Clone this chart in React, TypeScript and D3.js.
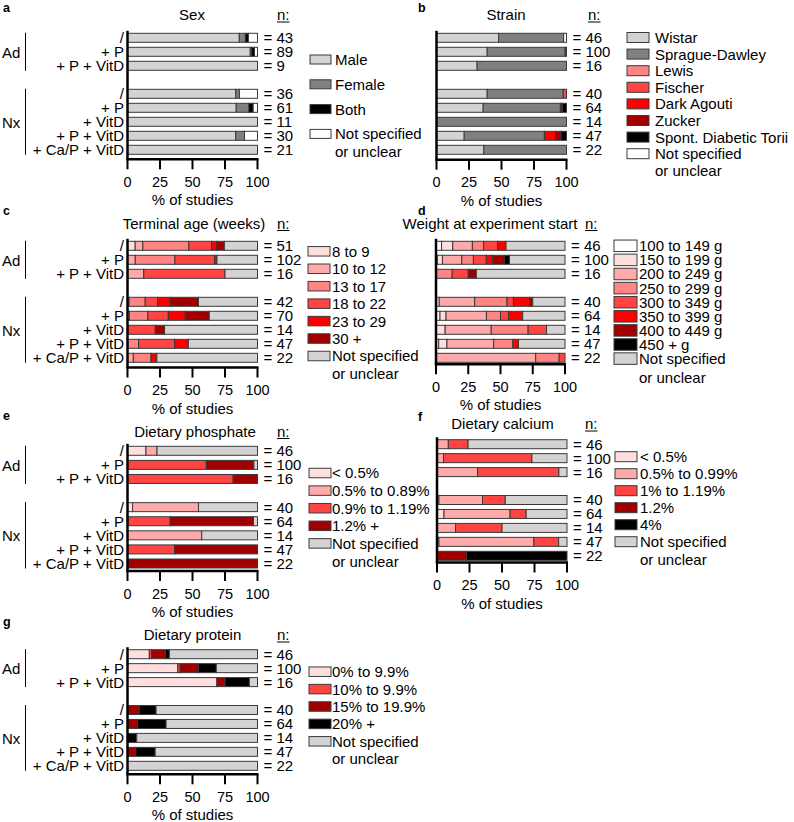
import React from "react";
import * as d3 from "d3";

const rowLabels = ["/", "+ P", "+ P + VitD", "/", "+ P", "+ VitD", "+ P + VitD", "+ Ca/P + VitD"];
const groupNames = ["Ad", "Nx"];
const groupRows = [[0, 1, 2], [3, 4, 5, 6, 7]];
const xTicks = [0, 25, 50, 75, 100];
const NS = "Not specified or unclear";

// a: Sex
const sexKeys = ["Male", "Female", "Both", NS];
const sexColors = ["#d3d3d3", "#808080", "#000000", "#ffffff"];
const sexN = [43, 89, 9, 36, 61, 11, 30, 21];
const sexData = [
  [86.0, 4.7, 2.3, 7.0],
  [94.4, 1.1, 2.2, 2.3],
  [100, 0, 0, 0],
  [83.3, 2.8, 0, 13.9],
  [83.6, 9.8, 3.3, 3.3],
  [100, 0, 0, 0],
  [83.3, 6.7, 0, 10.0],
  [100, 0, 0, 0],
];

// b: Strain
const strainKeys = ["Wistar", "Sprague-Dawley", "Lewis", "Fischer", "Dark Agouti", "Zucker", "Spont. Diabetic Torii", NS];
const strainColors = ["#d3d3d3", "#808080", "#ff8585", "#ff4444", "#ff0000", "#a00000", "#000000", "#ffffff"];
const strainN = [46, 100, 16, 40, 64, 14, 47, 22];
const strainData = [
  [47.8, 50.0, 0, 0, 0, 0, 0, 2.2],
  [39.0, 60.0, 0, 0, 0, 1.0, 0, 0],
  [31.25, 68.75, 0, 0, 0, 0, 0, 0],
  [39.0, 58.5, 0, 2.5, 0, 0, 0, 0],
  [35.9, 59.4, 0, 0, 0, 1.6, 3.1, 0],
  [0, 100, 0, 0, 0, 0, 0, 0],
  [21.3, 61.7, 0, 0, 8.5, 4.3, 4.2, 0],
  [36.4, 63.6, 0, 0, 0, 0, 0, 0],
];

// c: Terminal age
const ageKeys = ["8 to 9", "10 to 12", "13 to 17", "18 to 22", "23 to 29", "30 +", NS];
const ageColors = ["#ffdede", "#ffaaaa", "#ff8585", "#ff4444", "#ff0000", "#a00000", "#d3d3d3"];
const ageN = [51, 102, 16, 42, 70, 14, 47, 22];
const ageData = [
  [5.9, 5.9, 35.3, 17.6, 3.9, 5.9, 25.5],
  [0, 6.0, 30.5, 30.5, 1.8, 0, 31.2],
  [0, 12.5, 0, 62.5, 0, 0, 25.0],
  [1.2, 0, 12.4, 9.7, 9.5, 21.8, 45.4],
  [1.4, 0, 14.3, 15.7, 12.9, 18.6, 37.1],
  [0, 0, 0, 21.4, 0, 7.1, 71.5],
  [0, 0, 8.5, 27.7, 10.6, 0, 53.2],
  [0, 4.5, 13.6, 0, 4.5, 0, 77.4],
];

// d: Weight at experiment start
const weightKeys = ["100 to 149 g", "150 to 199 g", "200 to 249 g", "250 to 299 g", "300 to 349 g", "350 to 399 g", "400 to 449 g", "450 + g", NS];
const weightColors = ["#ffffff", "#ffdede", "#ffaaaa", "#ff8585", "#ff4444", "#ff0000", "#a00000", "#000000", "#d3d3d3"];
const weightN = [46, 100, 16, 40, 64, 14, 47, 22];
const weightData = [
  [4.3, 8.7, 15.2, 8.7, 10.9, 6.5, 0, 0, 45.7],
  [1.0, 4.0, 15.0, 9.0, 10.0, 5.0, 9.0, 4.0, 43.0],
  [0, 0, 0, 12.5, 12.5, 0, 6.25, 0, 68.75],
  [0, 2.5, 27.5, 25.0, 5.0, 12.5, 2.5, 0, 25.0],
  [3.1, 4.7, 31.3, 10.9, 6.2, 11.0, 0, 0, 32.8],
  [0, 7.1, 35.7, 28.6, 14.3, 0, 0, 0, 14.3],
  [2.1, 6.4, 36.2, 14.9, 0, 4.3, 0, 0, 36.1],
  [0, 0, 77.3, 18.2, 4.5, 0, 0, 0, 0],
];

// e: Dietary phosphate
const phosKeys = ["< 0.5%", "0.5% to 0.89%", "0.9% to 1.19%", "1.2% +", NS];
const phosColors = ["#ffdede", "#ffaaaa", "#ff4444", "#a00000", "#d3d3d3"];
const phosN = [46, 100, 16, 40, 64, 14, 47, 22];
const phosData = [
  [14.2, 8.5, 0, 0, 77.3],
  [0, 0, 60.6, 36.6, 2.8],
  [0, 0, 81.25, 18.75, 0],
  [3.9, 50.7, 0, 0, 45.4],
  [0, 0, 32.8, 64.1, 3.1],
  [0, 57.1, 0, 0, 42.9],
  [0, 0, 36.2, 63.8, 0],
  [0, 0, 0, 100, 0],
];

// f: Dietary calcium
const calKeys = ["< 0.5%", "0.5% to 0.99%", "1% to 1.19%", "1.2%", "4%", NS];
const calColors = ["#ffdede", "#ffaaaa", "#ff4444", "#a00000", "#000000", "#d3d3d3"];
const calN = [46, 100, 16, 40, 64, 14, 47, 22];
const calData = [
  [0, 8.7, 15.2, 0, 0, 76.1],
  [0, 5.0, 68.0, 0, 0, 27.0],
  [0, 31.25, 62.5, 0, 0, 6.25],
  [1.5, 33.5, 17.5, 0, 0, 47.5],
  [5.4, 50.8, 12.4, 0, 0, 31.4],
  [0, 14.3, 35.7, 0, 0, 50.0],
  [1.5, 73.0, 19.1, 0, 0, 6.4],
  [0, 0, 0, 22.7, 77.3, 0],
];

// g: Dietary protein
const protKeys = ["0% to 9.9%", "10% to 9.9%", "15% to 19.9%", "20% +", NS];
const protColors = ["#ffdede", "#ff4444", "#a00000", "#000000", "#d3d3d3"];
const protN = [46, 100, 16, 40, 64, 14, 47, 22];
const protData = [
  [16.8, 1.8, 10.5, 3.1, 67.8],
  [38.7, 1.8, 14.1, 13.7, 31.7],
  [68.75, 0, 6.25, 18.75, 6.25],
  [0, 0, 9.0, 13.0, 78.0],
  [0, 0, 7.8, 21.9, 70.3],
  [0, 0, 0, 7.1, 92.9],
  [0, 0, 6.4, 14.9, 78.7],
  [0, 0, 0, 0, 100],
];

const FONT = "'Liberation Sans', Arial, Helvetica, sans-serif";
const STROKE = "#3a3a3a";

type Layout = {
  x0: number; x1: number; yFirst: number; yLast: number; axisY: number;
  titleX: number; titleY: number; nX: number; letterX: number; letterY: number;
  sqX: number; sqW: number; sqH: number; textX: number; legY0: number; legStep: number; unclearDy: number;
  showCats: boolean;
};

function Panel(props: {
  letter: string; title: string; keys: string[]; colors: string[]; data: number[][]; nValues: number[]; L: Layout;
}) {
  const { letter, title, keys, colors, data, nValues, L } = props;
  const x = d3.scaleLinear().domain([0, 100]).range([L.x0, L.x1]);
  const slots = ["0", "1", "2", "gap", "3", "4", "5", "6", "7"];
  const y = d3.scalePoint<string>().domain(slots).range([L.yFirst, L.yLast]);
  const rowY = (i: number) => y(String(i)) as number;
  const table = data.map((r) => Object.fromEntries(keys.map((k, j) => [k, r[j]])));
  const series = d3.stack<any>().keys(keys)(table as any);
  const color = d3.scaleOrdinal<string, string>().domain(keys).range(colors);
  const barH = 9;
  const fs = 15;

  return (
    <g fontFamily={FONT} fill="#000">
      <text x={L.letterX} y={L.letterY} fontSize={12.5} fontWeight="bold">{letter}</text>
      <text x={L.titleX} y={L.titleY} fontSize={fs} textAnchor="middle">{title}</text>
      <text x={L.nX} y={L.titleY} fontSize={fs}>n:</text>
      <line x1={L.nX} x2={L.nX + 12.5} y1={L.titleY + 2} y2={L.titleY + 2} stroke="#000" strokeWidth={1} />

      {series.map((s, si) => (
        <g key={si}>
          {s.map((d, ri) => {
            const w = x(d[1]) - x(d[0]);
            if (w < 0.05) return null;
            return (
              <rect key={ri} x={x(d[0])} y={rowY(ri) - barH / 2} width={w} height={barH}
                fill={color(s.key)} stroke={STROKE} strokeWidth={1} />
            );
          })}
        </g>
      ))}

      {/* y axis */}
      <line x1={L.x0} x2={L.x0} y1={L.yFirst - 7} y2={L.axisY} stroke="#000" strokeWidth={2.5} />
      {/* x axis */}
      <line x1={L.x0 - 1.25} x2={x(100) + 1} y1={L.axisY} y2={L.axisY} stroke="#000" strokeWidth={2.5} />
      {xTicks.map((t) => (
        <g key={t}>
          <line x1={x(t)} x2={x(t)} y1={L.axisY} y2={L.axisY + 10} stroke="#000" strokeWidth={2} />
          <text x={x(t)} y={L.axisY + 27.5} fontSize={14.5} textAnchor="middle">{t}</text>
        </g>
      ))}
      <text x={(L.x0 + L.x1) / 2} y={L.axisY + 46} fontSize={fs} textAnchor="middle">% of studies</text>

      {nValues.map((n, i) => (
        <text key={i} x={L.x1 + 6} y={rowY(i) + 5.4} fontSize={fs}>= {n}</text>
      ))}

      {L.showCats && rowLabels.map((lab, i) => (
        <text key={i} x={124} y={rowY(i) + 5.4} fontSize={fs} textAnchor="end">{lab}</text>
      ))}
      {L.showCats && groupNames.map((g, gi) => {
        const rows = groupRows[gi];
        const first = rowY(rows[0]);
        const last = rowY(rows[rows.length - 1]);
        const mid = rowY(rows[Math.floor(rows.length / 2)]);
        return (
          <g key={g}>
            <text x={2} y={mid + 6} fontSize={fs}>{g}</text>
            <line x1={25.5} x2={25.5} y1={first - 5} y2={last + 5} stroke="#000" strokeWidth={1} />
          </g>
        );
      })}

      {keys.map((k, i) => {
        const cy = L.legY0 + i * L.legStep;
        const isNS = k === NS;
        return (
          <g key={k}>
            <rect x={L.sqX} y={cy - L.sqH / 2} width={L.sqW} height={L.sqH} fill={color(k)} stroke={STROKE} strokeWidth={1} />
            {isNS ? (
              <>
                <text x={L.textX} y={cy + 5.4} fontSize={fs}>Not specified</text>
                <text x={L.textX} y={cy + 5.4 + L.unclearDy} fontSize={fs}>or unclear</text>
              </>
            ) : (
              <text x={L.textX} y={cy + 5.4} fontSize={fs}>{k}</text>
            )}
          </g>
        );
      })}
    </g>
  );
}

const LA: Layout = { x0: 127.5, x1: 257.5, yFirst: 37.8, yLast: 149.8, axisY: 159.3, titleX: 192, titleY: 20, nX: 277, letterX: 3, letterY: 11.5,
  sqX: 310, sqW: 21, sqH: 9, textX: 335, legY0: 59.5, legStep: 24.8, unclearDy: 18, showCats: true };
const LB: Layout = { x0: 436.5, x1: 566.5, yFirst: 37.8, yLast: 149.8, axisY: 159.7, titleX: 506, titleY: 20, nX: 588, letterX: 418, letterY: 11.5,
  sqX: 627, sqW: 22, sqH: 10, textX: 655, legY0: 37.5, legStep: 16.6, unclearDy: 17, showCats: false };
const LC: Layout = { x0: 127.5, x1: 257.5, yFirst: 245.8, yLast: 357.8, axisY: 367.5, titleX: 194, titleY: 228.5, nX: 277, letterX: 3, letterY: 215,
  sqX: 308, sqW: 22, sqH: 9.5, textX: 332, legY0: 251.3, legStep: 17.45, unclearDy: 17.5, showCats: true };
const LD: Layout = { x0: 436, x1: 565, yFirst: 245.8, yLast: 357.8, axisY: 364.2, titleX: 490, titleY: 228.5, nX: 585, letterX: 418, letterY: 215,
  sqX: 614, sqW: 23, sqH: 11.5, textX: 639, legY0: 245.8, legStep: 14.1, unclearDy: 19, showCats: false };
const LE: Layout = { x0: 127.5, x1: 257.5, yFirst: 450.8, yLast: 563.5, axisY: 571, titleX: 195, titleY: 436.5, nX: 277, letterX: 3, letterY: 419.5,
  sqX: 309, sqW: 22, sqH: 9.5, textX: 332, legY0: 473, legStep: 17.6, unclearDy: 18, showCats: true };
const LF: Layout = { x0: 437, x1: 567, yFirst: 444.2, yLast: 555.8, axisY: 562.5, titleX: 502.5, titleY: 429, nX: 585, letterX: 418, letterY: 420.5,
  sqX: 615, sqW: 22, sqH: 10, textX: 640, legY0: 456.7, legStep: 17, unclearDy: 17.5, showCats: false };
const LG: Layout = { x0: 127.5, x1: 257.5, yFirst: 654.2, yLast: 765.8, axisY: 774.3, titleX: 192.5, titleY: 640, nX: 277, letterX: 3, letterY: 626,
  sqX: 309, sqW: 22, sqH: 9.5, textX: 332, legY0: 671.7, legStep: 17.4, unclearDy: 17, showCats: true };

export default function App() {
  return (
    <svg width={794} height={822} style={{ position: "absolute", left: 0, top: 0, background: "#fff" }}>
      <rect x={0} y={0} width={794} height={822} fill="#fff" />
      <Panel letter="a" title="Sex" keys={sexKeys} colors={sexColors} data={sexData} nValues={sexN} L={LA} />
      <Panel letter="b" title="Strain" keys={strainKeys} colors={strainColors} data={strainData} nValues={strainN} L={LB} />
      <Panel letter="c" title="Terminal age (weeks)" keys={ageKeys} colors={ageColors} data={ageData} nValues={ageN} L={LC} />
      <Panel letter="d" title="Weight at experiment start" keys={weightKeys} colors={weightColors} data={weightData} nValues={weightN} L={LD} />
      <Panel letter="e" title="Dietary phosphate" keys={phosKeys} colors={phosColors} data={phosData} nValues={phosN} L={LE} />
      <Panel letter="f" title="Dietary calcium" keys={calKeys} colors={calColors} data={calData} nValues={calN} L={LF} />
      <Panel letter="g" title="Dietary protein" keys={protKeys} colors={protColors} data={protData} nValues={protN} L={LG} />
    </svg>
  );
}
